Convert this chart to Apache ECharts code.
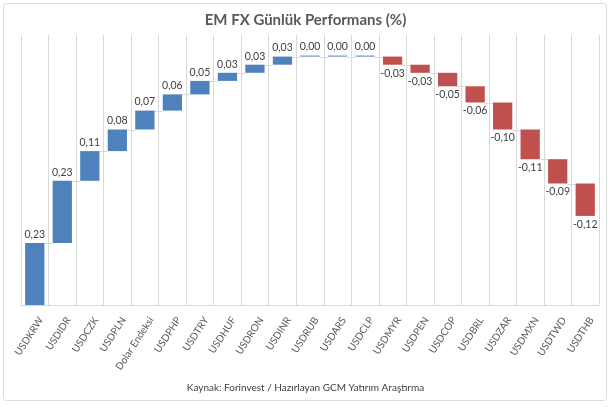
<!DOCTYPE html>
<html><head><meta charset="utf-8">
<script src="https://cdn.jsdelivr.net/npm/echarts@6/dist/echarts.min.js"></script>
<style>html,body{margin:0;padding:0;background:#fff}#c{width:611px;height:407px}</style>
</head><body><div id="c"></div>
<script>
const categories = ['USDKRW','USDIDR','USDCZK','USDPLN','Dolar Endeksi','USDPHP','USDTRY','USDHUF','USDRON','USDINR','USDRUB','USDARS','USDCLP','USDMYR','USDPEN','USDCOP','USDBRL','USDZAR','USDMXN','USDTWD','USDTHB'];
const changes = [0.23,0.23,0.11,0.08,0.07,0.06,0.05,0.03,0.03,0.03,0.00,0.00,0.00,-0.03,-0.03,-0.05,-0.06,-0.10,-0.11,-0.09,-0.12];
const titleText = 'EM FX Günlük Performans (%)';
const sourceText = 'Kaynak: Forinvest / Hazırlayan GCM Yatırım Araştırma';

const base = [], up = [], down = [], conn = [];
let cum = 0;
changes.forEach((v, i) => {
  const next = cum + v;
  base.push(Math.min(cum, next));
  if (v >= 0) { up.push(v); down.push('-'); } else { up.push('-'); down.push(-v); }
  cum = next;
  if (i < changes.length - 1) conn.push([i, cum]);
});
const fmt = i => changes[i].toFixed(2).replace('.', ',');
const FONT = 'Lato';
const BW = 0.7;

const chart = echarts.init(document.getElementById('c'));
chart.setOption({
  animation: false,
  textStyle: { fontFamily: FONT },
  title: { text: titleText, left: 'center', top: 8,
    textStyle: { fontFamily: FONT, fontSize: 15, fontWeight: 'bold', color: '#595959' } },
  graphic: [
    { type: 'rect', shape: { x: 3.5, y: 3.5, width: 603, height: 397, r: 3 },
      style: { fill: 'none', stroke: '#d9d9d9', lineWidth: 1 }, z: -1 },
    { type: 'text', left: 'center', top: 383,
      style: { text: sourceText, fontFamily: FONT, fontSize: 10, fill: '#404040' } }
  ],
  grid: { left: 21, right: 12, top: 35, bottom: 102, containLabel: false, outerBoundsMode: 'none' },
  xAxis: { type: 'category', data: categories,
    axisLine: { lineStyle: { color: '#d9d9d9' } },
    axisTick: { show: false },
    splitLine: { show: true, lineStyle: { color: '#d9d9d9' } },
    axisLabel: { rotate: 57, interval: 0, fontSize: 10, color: '#595959', margin: 9,
      lineHeight: 15, formatter: v => '\n' + v, fontFamily: FONT } },
  yAxis: { type: 'value', min: 0, max: 1, show: false, splitLine: { show: false } },
  series: [
    { type: 'bar', stack: 'w', data: base, barWidth: (BW*100)+'%', itemStyle: { color: 'transparent' }, silent: true },
    { type: 'bar', stack: 'w', data: up, barMinHeight: 1, itemStyle: { color: '#4f81bd' },
      label: { show: true, position: 'top', distance: 3, fontSize: 10.5, color: '#404040', fontFamily: FONT,
        formatter: p => fmt(p.dataIndex) } },
    { type: 'bar', stack: 'w', data: down, itemStyle: { color: '#c0504d' },
      label: { show: true, position: 'bottom', distance: 3, fontSize: 10.5, color: '#404040', fontFamily: FONT,
        formatter: p => fmt(p.dataIndex) } },
    { type: 'custom', data: conn, z: 1,
      renderItem: (params, api) => {
        const i = api.value(0), y = api.value(1);
        const a = api.coord([i, y]);
        const b = api.coord([i + 1, y]);
        const hw = api.size([1, 0])[0] * BW / 2;
        return { type: 'line', shape: { x1: a[0] + hw, y1: Math.round(a[1]) + 0.5, x2: b[0] - hw, y2: Math.round(a[1]) + 0.5 },
          style: { stroke: '#d9d9d9', lineWidth: 1 } };
      } }
  ]
});
</script></body></html>
